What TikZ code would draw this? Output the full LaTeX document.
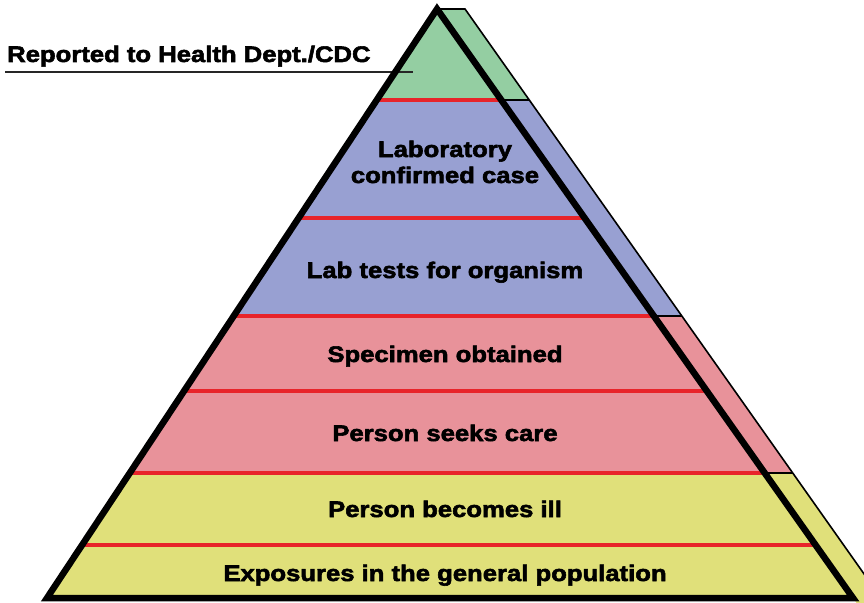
\documentclass[tikz,border=0pt]{standalone}
\usepackage{fontspec}
\setmainfont{Liberation Sans}[FakeStretch=1.14]
\newfontfamily\heavyfont{Liberation Sans}[FakeStretch=1.14, BoldFeatures={FakeBold=2.5}]
\definecolor{tgreen}{RGB}{148,206,162}
\definecolor{tblue}{RGB}{152,160,210}
\definecolor{tpink}{RGB}{232,146,154}
\definecolor{tyellow}{RGB}{224,224,122}
\definecolor{tred}{RGB}{232,36,42}
\tikzset{
  lbl/.style={inner sep=0pt, anchor=base, font=\heavyfont\fontsize{22.5}{26}\selectfont\bfseries, align=center},
  redline/.style={draw=tred, line width=3.4pt},
  thinline/.style={draw=black, line width=1.6pt},
  outline/.style={draw=black, line width=6.5pt, line join=miter},
}
\begin{document}
\begin{tikzpicture}[x=1pt,y=-1pt]
\useasboundingbox (0,0) rectangle (864,602);
% key points
\coordinate (A) at (437,9);
\coordinate (L) at (47,598);
\coordinate (R) at (853,598);
\coordinate (T) at (465,9);
\coordinate (Tb) at (910.7,640);
\coordinate (Rb) at (882.7,640);
% side face
\begin{scope}
  \clip (A) -- (T) -- (Tb) -- (Rb) -- cycle;
  \fill[tgreen] (400,0) rectangle (950,100);
  \fill[tblue] (400,100) rectangle (950,316);
  \fill[tpink] (400,316) rectangle (950,473);
  \fill[tyellow] (400,473) rectangle (950,650);
  \draw[thinline] (400,100) -- (950,100);
  \draw[thinline] (400,316) -- (950,316);
  \draw[thinline] (400,473) -- (950,473);
\end{scope}
\draw[thinline, line join=miter] (A) -- (T) -- (Tb);
% main triangle
\begin{scope}
  \clip (A) -- (L) -- (R) -- cycle;
  \fill[tgreen] (0,0) rectangle (864,100);
  \fill[tblue] (0,100) rectangle (864,316);
  \fill[tpink] (0,316) rectangle (864,473);
  \fill[tyellow] (0,473) rectangle (864,602);
  \foreach \yy in {100,218,316,391,473,545} {
    \draw[redline] (0,\yy) -- (864,\yy);
  }
\end{scope}
% heading underline
\coordinate (U1) at (5,72);
\coordinate (U2) at (413,72);
\draw[draw=black!85, line width=2pt] (U1) -- (U2);
\draw[outline] (A) -- (L) -- (R) -- cycle;
% labels
\node[lbl, anchor=base west] (head) at (7,62) {Reported to Health Dept./CDC};
\node[lbl] (lab) at (445,183) {Laboratory\\confirmed case};
\node[lbl] (tests) at (445,278) {Lab tests for organism};
\node[lbl] (spec) at (445,362) {Specimen obtained};
\node[lbl] (care) at (445,441) {Person seeks care};
\node[lbl] (ill) at (445,517) {Person becomes ill};
\node[lbl] (expo) at (445,581) {Exposures in the general population};
\end{tikzpicture}
\end{document}
